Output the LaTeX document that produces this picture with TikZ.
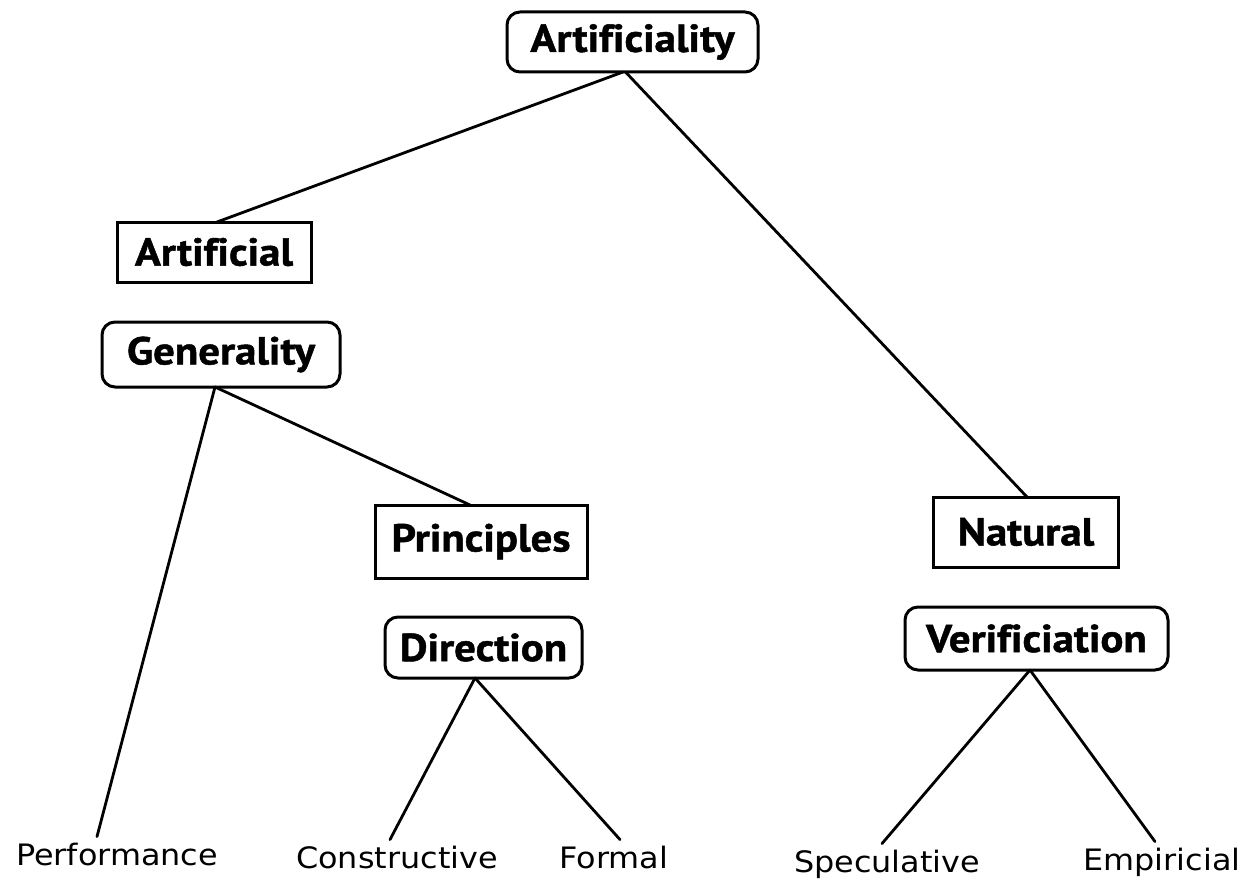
\documentclass[tikz,border=0pt]{standalone}
\usepackage{fontspec}
\newfontfamily\headfont[FakeStretch=1.1, Ligatures=NoCommon, FakeBold=1.2]{PT Sans}
\newfontfamily\leaffont[FakeStretch=1.08, Ligatures=NoCommon]{DejaVu Sans}
\begin{document}
\begin{tikzpicture}[x=1pt,y=-1pt,
  edge/.style={line width=2.8pt, line cap=round},
  headbox/.style={draw, line width=3pt, inner sep=0pt, outer sep=0pt,
    font=\headfont\bfseries\fontsize{39}{41}\selectfont, align=center},
  choice/.style={headbox, rounded corners=13pt},
  label/.style={headbox},
  leaf/.style={inner sep=0pt, outer sep=0pt, anchor=base,
    font=\leaffont\fontsize{29.5}{32}\selectfont}]
  \useasboundingbox (0,0) rectangle (1253,880);
  \fill[white] (0,0) rectangle (1253,880);

  % decision nodes (rounded) and value nodes (square)
  \node[choice, minimum width=251pt, minimum height=60pt] (art)  at (632.5,42)  {Artificiality};
  \node[label,  minimum width=194pt, minimum height=60pt] (artl) at (214,252)   {Artificial};
  \node[choice, minimum width=238pt, minimum height=65pt] (gen)  at (221,354.5) {Generality};
  \node[label,  minimum width=212pt, minimum height=73pt] (prin) at (481,541.5) {Principles};
  \node[choice, minimum width=197pt, minimum height=61pt] (dir)  at (483.5,647.5) {Direction};
  \node[label,  minimum width=185pt, minimum height=70pt] (nat)  at (1026,532)  {Natural};
  \node[choice, minimum width=263pt, minimum height=63pt] (ver)  at (1036.5,638.5) {Verificiation};

  % leaves
  \node[leaf] (perf) at (117,865)  {Performance};
  \node[leaf] (cons) at (397,868)  {Constructive};
  \node[leaf] (form) at (614,868)  {Formal};
  \node[leaf] (spec) at (887,872)  {Speculative};
  \node[leaf] (emp)  at (1162,870) {Empiricial};

  % branches
  \draw[edge] ([xshift=-9.5pt]art.south) -- ([xshift=3pt]artl.north);
  \draw[edge] ([xshift=-7pt]art.south) -- ([xshift=1pt]nat.north);
  \draw[edge] ([xshift=-6pt]gen.south) -- ([xshift=-20pt,yshift=6pt]perf.north);
  \draw[edge] ([xshift=-6pt]gen.south) -- ([xshift=-11pt]prin.north);
  \draw[edge] ([xshift=-8.5pt]dir.south) -- ([xshift=-7pt,yshift=6pt]cons.north);
  \draw[edge] ([xshift=-8.5pt]dir.south) -- ([xshift=6pt,yshift=6pt]form.north);
  \draw[edge] ([xshift=-6.5pt]ver.south) -- ([xshift=-5pt,yshift=6pt]spec.north);
  \draw[edge] ([xshift=-6.5pt]ver.south) -- ([xshift=-7pt,yshift=6pt]emp.north);
\end{tikzpicture}
\end{document}
